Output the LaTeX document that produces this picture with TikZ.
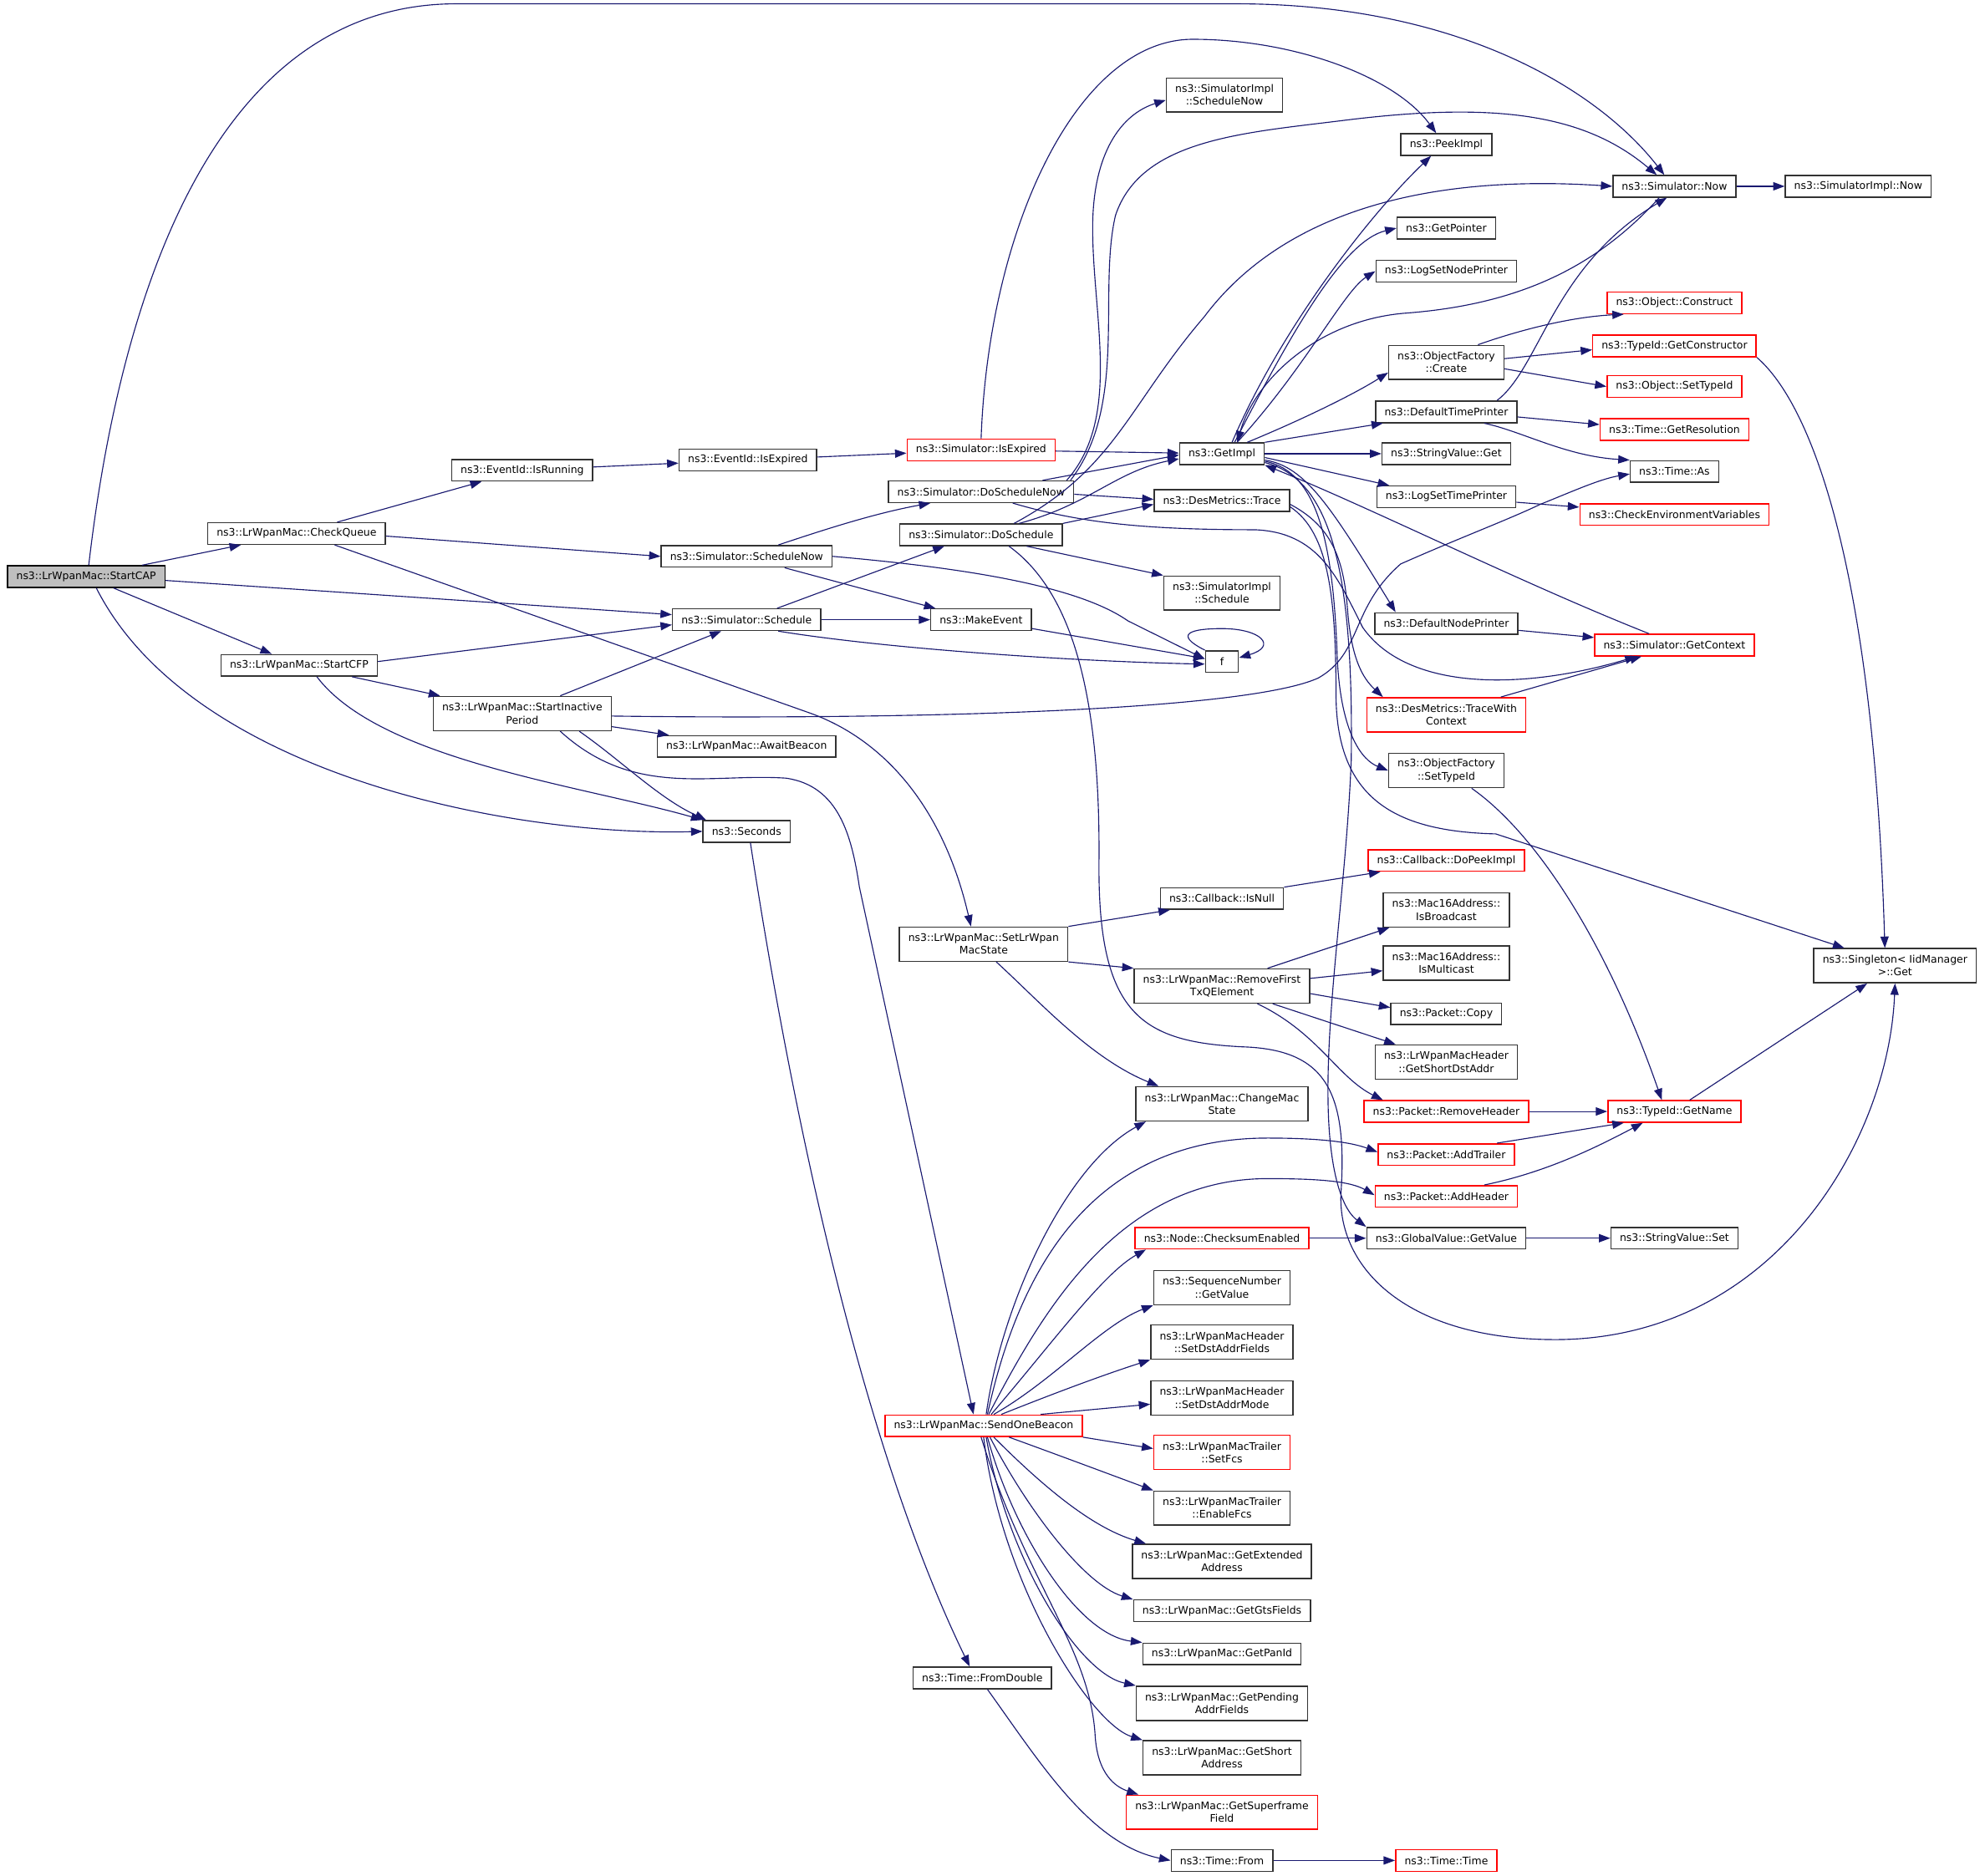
\documentclass[tikz,border=0pt]{standalone}
\usepackage{fontspec}
\setmainfont{DejaVu Sans}
\usetikzlibrary{arrows.meta}
\definecolor{callblue}{HTML}{191970}
\definecolor{truncred}{HTML}{FF0000}
\definecolor{rootgray}{HTML}{BFBFBF}
\definecolor{fnframe}{HTML}{333333}
\tikzset{fn/.style={draw=fnframe, fill=white, line width=1pt, font=\fontsize{8.2}{10}\selectfont, inner xsep=7pt, inner ysep=1pt, minimum height=17pt, align=center},
	fntwo/.style={fn, minimum height=27pt},
	trunc/.style={fn, draw=truncred},
	trunctwo/.style={fntwo, draw=truncred},
	root/.style={fn, draw=black, fill=rootgray},
	call/.style={draw=callblue, line width=0.75pt, -{Triangle[length=9pt,width=6.5pt]}}}

\begin{document}
\begin{tikzpicture}[x=1pt, y=-1pt]
				\path[use as bounding box, fill=white] (0,0) rectangle (1566,1480);

				\node[root] (SA) at (68,455) {ns3::LrWpanMac::StartCAP};
				\node[fn] (CQ) at (234,421) {ns3::LrWpanMac::CheckQueue};
				\node[fn] (CF) at (236,525) {ns3::LrWpanMac::StartCFP};
				\node[fn] (IR) at (412,371) {ns3::EventId::IsRunning};
				\node[fntwo] (IP) at (412,563) {ns3::LrWpanMac::StartInactive\\Period};
				\node[fn] (EE) at (590,363) {ns3::EventId::IsExpired};
				\node[fn] (SN) at (589,439) {ns3::Simulator::ScheduleNow};
				\node[fn] (SC) at (589,489) {ns3::Simulator::Schedule};
				\node[fn] (AB) at (589,589) {ns3::LrWpanMac::AwaitBeacon};
				\node[fn] (SE) at (589,656) {ns3::Seconds};
				\node[trunc] (SX) at (774,355) {ns3::Simulator::IsExpired};
				\node[fn] (DN) at (774,388) {ns3::Simulator::DoScheduleNow};
				\node[fn] (DS) at (774,422) {ns3::Simulator::DoSchedule};
				\node[fn] (ME) at (774,489) {ns3::MakeEvent};
				\node[fntwo] (MS) at (776,745) {ns3::LrWpanMac::SetLrWpan\\MacState};
				\node[trunc] (OB) at (776,1125) {ns3::LrWpanMac::SendOneBeacon};
				\node[fn] (FD) at (775,1324) {ns3::Time::FromDouble};

				\node[fntwo] (IN) at (966,75) {ns3::SimulatorImpl\\::ScheduleNow};
				\node[fn] (GI) at (964,358) {ns3::GetImpl};
				\node[fn] (DT) at (964,395) {ns3::DesMetrics::Trace};
				\node[fntwo] (IS) at (964,468) {ns3::SimulatorImpl\\::Schedule};
				\node[fn, minimum width=26pt] (F) at (964,522) {f};
				\node[fn] (CN) at (964,709) {ns3::Callback::IsNull};
				\node[fntwo] (RF) at (964,778) {ns3::LrWpanMac::RemoveFirst\\TxQElement};
				\node[fntwo] (CM) at (964,871) {ns3::LrWpanMac::ChangeMac\\State};
				\node[trunc] (CE) at (964,977) {ns3::Node::ChecksumEnabled};
				\node[fntwo] (SQ) at (964,1016) {ns3::SequenceNumber\\::GetValue};
				\node[fntwo] (HF) at (964,1059) {ns3::LrWpanMacHeader\\::SetDstAddrFields};
				\node[fntwo] (HM) at (964,1103) {ns3::LrWpanMacHeader\\::SetDstAddrMode};
				\node[trunctwo] (TF) at (964,1146) {ns3::LrWpanMacTrailer\\::SetFcs};
				\node[fntwo] (TE) at (964,1190) {ns3::LrWpanMacTrailer\\::EnableFcs};
				\node[fntwo] (GX) at (964,1232) {ns3::LrWpanMac::GetExtended\\Address};
				\node[fn] (GG) at (964,1271) {ns3::LrWpanMac::GetGtsFields};
				\node[fn] (GP) at (964,1305) {ns3::LrWpanMac::GetPanId};
				\node[fntwo] (GA) at (964,1344) {ns3::LrWpanMac::GetPending\\AddrFields};
				\node[fntwo] (GS) at (964,1387) {ns3::LrWpanMac::GetShort\\Address};
				\node[trunctwo] (GF) at (964,1430) {ns3::LrWpanMac::GetSuperframe\\Field};
				\node[fn] (TM) at (964,1468) {ns3::Time::From};

				\node[fn] (PI) at (1141,114) {ns3::PeekImpl};
				\node[fn] (GT) at (1141,180) {ns3::GetPointer};
				\node[fn] (LN) at (1141,214) {ns3::LogSetNodePrinter};
				\node[fntwo] (OC) at (1141,286) {ns3::ObjectFactory\\::Create};
				\node[fn] (DP) at (1141,325) {ns3::DefaultTimePrinter};
				\node[fn] (SG) at (1141,358) {ns3::StringValue::Get};
				\node[fn] (LT) at (1141,392) {ns3::LogSetTimePrinter};
				\node[fn] (NP) at (1141,492) {ns3::DefaultNodePrinter};
				\node[trunctwo] (TC) at (1141,564) {ns3::DesMetrics::TraceWith\\Context};
				\node[fntwo] (OT) at (1141,608) {ns3::ObjectFactory\\::SetTypeId};
				\node[trunc] (DK) at (1141,679) {ns3::Callback::DoPeekImpl};
				\node[fntwo] (MB) at (1141,718) {ns3::Mac16Address::\\IsBroadcast};
				\node[fntwo] (MM) at (1141,760) {ns3::Mac16Address::\\IsMulticast};
				\node[fn] (PC) at (1141,800) {ns3::Packet::Copy};
				\node[fntwo] (HS) at (1141,838) {ns3::LrWpanMacHeader\\::GetShortDstAddr};
				\node[trunc] (PR) at (1141,877) {ns3::Packet::RemoveHeader};
				\node[trunc] (PT) at (1141,911) {ns3::Packet::AddTrailer};
				\node[trunc] (PH) at (1141,944) {ns3::Packet::AddHeader};
				\node[fn] (GV) at (1141,977) {ns3::GlobalValue::GetValue};
				\node[trunc] (TT) at (1141,1468) {ns3::Time::Time};

				\node[fn] (NW) at (1321,147) {ns3::Simulator::Now};
				\node[trunc] (OK) at (1321,239) {ns3::Object::Construct};
				\node[trunc] (TG) at (1321,273) {ns3::TypeId::GetConstructor};
				\node[trunc] (OS) at (1321,305) {ns3::Object::SetTypeId};
				\node[trunc] (TR) at (1321,339) {ns3::Time::GetResolution};
				\node[fn] (TA) at (1321,372) {ns3::Time::As};
				\node[trunc] (CV) at (1321,406) {ns3::CheckEnvironmentVariables};
				\node[trunc] (GC) at (1321,509) {ns3::Simulator::GetContext};
				\node[trunc] (TN) at (1321,877) {ns3::TypeId::GetName};
				\node[fn] (SS) at (1321,977) {ns3::StringValue::Set};
				\node[fn] (IM) at (1466,147) {ns3::SimulatorImpl::Now};
				\node[fntwo] (SI) at (1495,762) {ns3::Singleton< IidManager\\>::Get};

				\draw[call] (SA) -- (CQ);
				\draw[call] (SA) -- (CF);
				\draw[call] ([yshift=-3pt]SA.east) -- ([yshift=4pt]SC.west);
				\draw[call] ([xshift=8pt]SA.south) .. controls (150,610) and (400,660) .. (SE.west);
				\draw[call] ([xshift=2pt]SA.north) .. controls (95,230) and (170,3) .. (360,3) -- (975,3) .. controls (1150,3) and (1260,70) .. ([xshift=-8pt]NW.north);

				\draw[call] (CQ) -- (IR);
				\draw[call] ([yshift=-2pt]CQ.east) -- (SN.west);
				\draw[call] ([xshift=30pt]CQ.south) -- (640,563) .. controls (700,585) and (745,640) .. ([xshift=-10pt]MS.north);

				\draw[call] ([yshift=3pt]CF.east) -- ([yshift=-4pt]SC.west);
				\draw[call] (CF) -- (IP);
				\draw[call] ([xshift=14pt]CF.south) .. controls (300,600) and (460,620) .. (SE.north west);

				\draw[call] (IR) -- (EE);
				\draw[call] (EE) -- (SX);
				\draw[call] (SX) -- (GI);
				\draw[call] (SX.north) .. controls (780,180) and (850,31) .. (941,31) .. controls (1020,31) and (1100,60) .. ([xshift=-8pt]PI.north);

				\draw[call] ([xshift=30pt]IP.north) -- ([xshift=-20pt]SC.south);
				\draw[call] (IP) -- (AB);
				\draw[call] ([xshift=45pt]IP.south) .. controls (490,600) and (520,630) .. ([xshift=3pt]SE.north west);
				\draw[call] ([xshift=30pt]IP.south) .. controls (500,630) and (560,610) .. (620,614) .. controls (662,620) and (672,660) .. (678,700) -- ([xshift=-8pt]OB.north);
				\draw[call] ([yshift=-2pt]IP.east) .. controls (700,568) and (980,562) .. (1040,535) .. controls (1075,515) and (1065,480) .. (1105,445) .. controls (1150,425) and (1190,410) .. (1215,398) .. controls (1240,388) and (1262,378) .. ([yshift=-2pt]TA.west);

				\draw[call] ([xshift=24pt]SC.north) -- ([xshift=-29pt]DS.south);
				\draw[call] (SC) -- (ME);
				\draw[call] ([xshift=25pt]SC.south) .. controls (700,512) and (850,522) .. ([yshift=-2pt]F.west);

				\draw[call] ([xshift=25pt]SN.north) .. controls (650,418) and (690,405) .. ([xshift=-40pt]DN.south);
				\draw[call] ([xshift=30pt]SN.south) -- ([xshift=-36pt]ME.north);
				\draw[call] (SN.east) .. controls (760,448) and (850,462) .. (890,490) -- ([yshift=2pt]F.west);
				\draw[call] (ME) -- (F);
				\draw[call] (F.north west) .. controls (925,500) and (940,496) .. (964,496) .. controls (995,496) and (1008,510) .. ([yshift=3pt]F.east);

				\draw[call] ([xshift=30pt]DS.north) .. controls (860,398) and (880,372) .. ([yshift=-4pt]GI.west);
				\draw[call] (DS.north east) -- ([yshift=-3pt]DT.west);
				\draw[call] ([xshift=36pt]DS.south) -- (IS.north west);
				\draw[call] ([xshift=26pt]DS.north) .. controls (880,370) and (890,320) .. (950,250) .. controls (1010,170) and (1120,137) .. (NW.west);
				\draw[call] ([xshift=22pt]DS.south) .. controls (850,470) and (868,560) .. (867,680) .. controls (866,800) and (900,822) .. (980,826) .. controls (1045,828) and (1063,860) .. (1058,940) .. controls (1054,1000) and (1110,1058) .. (1230,1057) .. controls (1400,1055) and (1490,900) .. (SI.south);

				\draw[call] ([xshift=-25pt]DN.north east) -- ([yshift=-1pt]GI.west);
				\draw[call] ([yshift=-2pt]DN.east) -- ([yshift=1pt]DT.west);
				\draw[call] ([xshift=-6pt]DN.north east) .. controls (885,330) and (862,250) .. (862,180) .. controls (862,120) and (885,90) .. ([yshift=-4pt]IN.west);
				\draw[call] ([xshift=-3pt]DN.north east) .. controls (890,320) and (866,230) .. (880,170) .. controls (900,110) and (980,105) .. (1060,95) .. controls (1180,80) and (1250,90) .. ([xshift=-14pt]NW.north);
				\draw[call] ([xshift=25pt]DN.south) .. controls (850,412) and (900,418) .. (990,418) .. controls (1040,420) and (1055,455) .. (1075,495) .. controls (1110,545) and (1200,545) .. ([xshift=-30pt]GC.south);

				\draw[call] ([xshift=8pt]GI.north) .. controls (1010,260) and (1080,170) .. ([xshift=-12pt]PI.south);
				\draw[call] ([xshift=10pt]GI.north) .. controls (1020,260) and (1060,190) .. (GT.west);
				\draw[call] ([xshift=12pt]GI.north) .. controls (1030,290) and (1060,230) .. (LN.west);
				\draw[call] ([xshift=20pt]GI.north) .. controls (1030,330) and (1070,310) .. ([yshift=-8pt]OC.west);
				\draw[call] (GI.north east) -- ([xshift=-50pt]DP.south);
				\draw[call] (GI) -- (SG);
				\draw[call] ([yshift=-3pt]GI.east) -- ([xshift=-45pt]LT.north);
				\draw[call] ([yshift=-5pt]GI.east) .. controls (1030,368) and (1050,400) .. ([xshift=-40pt]NP.north);
				\draw[call] ([yshift=-6pt]GI.east) .. controls (1040,372) and (1052,430) .. (1055,520) .. controls (1058,580) and (1075,600) .. (OT.west);
				\draw[call] ([yshift=-7pt]GI.east) .. controls (1050,378) and (1068,450) .. (1066,600) .. controls (1062,700) and (1045,800) .. (1048,880) .. controls (1050,930) and (1060,955) .. (GV.north west);

				\draw[call] ([yshift=-3pt]DT.east) .. controls (1050,415) and (1060,440) .. (1063,480) .. controls (1066,520) and (1075,535) .. ([xshift=-50pt]TC.north);
				\draw[call] ([yshift=-5pt]DT.east) .. controls (1048,420) and (1054,470) .. (1054,550) .. controls (1055,630) and (1100,656) .. (1180,658) -- ([xshift=-40pt]SI.north);

				\draw[call] ([xshift=-12pt]NW.south) .. controls (1260,210) and (1200,240) .. (1110,247) .. controls (1040,252) and (990,300) .. ([xshift=12pt]GI.north);
				\draw[call] ([xshift=-20pt]GC.north) .. controls (1200,460) and (1080,400) .. (GI.south east);
				\draw[call] (NW) -- (IM);

				\draw[call] ([xshift=40pt]DP.north) .. controls (1215,290) and (1225,210) .. ([xshift=-6pt]NW.south);
				\draw[call] ([yshift=-4pt]DP.east) -- ([yshift=4pt]TR.west);
				\draw[call] ([xshift=30pt]DP.south) .. controls (1200,340) and (1235,360) .. (TA.north west);

				\draw[call] ([xshift=25pt]OC.north) .. controls (1200,260) and (1240,250) .. ([xshift=-40pt]OK.south);
				\draw[call] ([yshift=3pt]OC.east) -- ([yshift=-3pt]TG.west);
				\draw[call] ([yshift=-5pt]OC.east) -- (OS.west);
				\draw[call] (TG.south east) .. controls (1430,320) and (1478,450) .. ([xshift=-8pt]SI.north);
				\draw[call] (LT) -- (CV);
				\draw[call] (NP) -- (GC);
				\draw[call] ([xshift=43pt]TC.north) -- ([xshift=-26pt]GC.south);
				\draw[call] ([xshift=20pt]OT.south) .. controls (1215,660) and (1270,750) .. ([xshift=-10pt]TN.north);
				\draw[call] ([xshift=12pt]TN.north) -- ([xshift=-22pt]SI.south);

				\draw[call] (MS.north east) -- ([xshift=8pt]CN.south west);
				\draw[call] (MS.south east) -- (RF.north west);
				\draw[call] ([xshift=10pt]MS.south) .. controls (820,790) and (860,835) .. ([xshift=-50pt]CM.north);
				\draw[call] (CN.north east) -- ([xshift=-52pt]DK.south);

				\draw[call] ([xshift=36pt]RF.north) -- ([xshift=-45pt]MB.south);
				\draw[call] ([yshift=6pt]RF.east) -- ([yshift=-6pt]MM.west);
				\draw[call] ([yshift=-6pt]RF.east) -- ([yshift=5pt]PC.west);
				\draw[call] ([xshift=40pt]RF.south) -- ([xshift=-40pt]HS.north);
				\draw[call] ([xshift=28pt]RF.south) .. controls (1040,815) and (1055,850) .. ([xshift=-50pt]PR.north);

				\draw[call] (PR) -- (TN);
				\draw[call] ([xshift=40pt]PT.north) -- ([xshift=-40pt]TN.south);
				\draw[call] ([xshift=30pt]PH.north) .. controls (1220,925) and (1260,905) .. ([xshift=-25pt]TN.south);
				\draw[call] (CE) -- (GV);
				\draw[call] (GV) -- (SS);

				\draw[call] ([xshift=2pt]OB.north) .. controls (790,1030) and (840,920) .. ([xshift=-60pt]CM.south);
				\draw[call] ([xshift=3pt]OB.north) .. controls (800,1020) and (850,898) .. (1000,898) .. controls (1040,898) and (1065,901) .. ([yshift=2pt]PT.west);
				\draw[call] ([xshift=4pt]OB.north) .. controls (820,1040) and (880,930) .. (1000,930) .. controls (1040,930) and (1065,932) .. ([yshift=1pt]PH.west);
				\draw[call] ([xshift=6pt]OB.north) .. controls (830,1060) and (870,1005) .. ([xshift=-60pt]CE.south);
				\draw[call] ([xshift=8pt]OB.north) .. controls (830,1090) and (870,1045) .. (SQ.south west);
				\draw[call] ([xshift=14pt]OB.north) .. controls (830,1100) and (870,1085) .. (HF.south west);
				\draw[call] ([xshift=45pt]OB.north) -- ([yshift=-5pt]HM.west);
				\draw[call] (OB.south east) -- ([yshift=3pt]TF.west);
				\draw[call] ([xshift=20pt]OB.south) .. controls (840,1150) and (880,1165) .. (TE.north west);
				\draw[call] ([xshift=8pt]OB.south) .. controls (820,1170) and (860,1205) .. ([xshift=-60pt]GX.north);
				\draw[call] ([xshift=5pt]OB.south) .. controls (810,1190) and (855,1250) .. (GG.north west);
				\draw[call] ([xshift=3pt]OB.south) .. controls (800,1210) and (850,1290) .. (GP.north west);
				\draw[call] ([xshift=2pt]OB.south) .. controls (795,1230) and (850,1320) .. (GA.north west);
				\draw[call] (OB.south) .. controls (790,1250) and (860,1360) .. (GS.north west);
				\draw[call] ([xshift=-2pt]OB.south) .. controls (810,1250) and (860,1300) .. (864,1370) .. controls (866,1400) and (880,1410) .. ([xshift=-66pt]GF.north);

				\draw[call] ([xshift=3pt]SE.south) .. controls (625,880) and (680,1140) .. ([xshift=-10pt]FD.north);
				\draw[call] ([xshift=4pt]FD.south) .. controls (820,1390) and (860,1455) .. (TM.west);
				\draw[call] (TM) -- (TT);
			\end{tikzpicture}
\end{document}
